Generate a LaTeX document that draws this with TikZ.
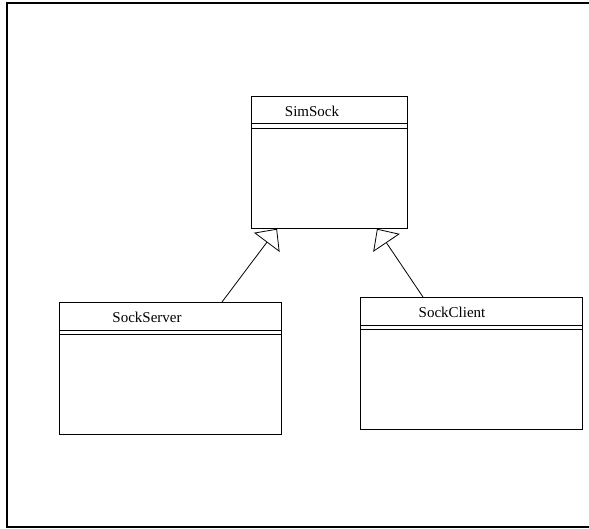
\documentclass[tikz,border=0pt]{standalone}
\usepackage{fontspec}
\setmainfont{Liberation Serif}
\usetikzlibrary{arrows.meta,calc}

\tikzset{
  classbox/.style={draw, line width=0.8pt, rectangle, anchor=north west,
    minimum width=#1, minimum height=132pt, inner sep=0pt},
  classname/.style={font=\fontsize{15}{18}\selectfont, inner sep=0pt},
  sepline/.style={line width=0.8pt},
  inherit/.style={line width=0.8pt,
    -{Triangle[open, length=17pt, width=32pt, line width=0.8pt]}},
  frame/.style={line width=2pt}
}

\begin{document}
\begin{tikzpicture}[x=1pt, y=-1pt]
  \useasboundingbox (0,0) rectangle (589,529);
  \fill[white] (0,0) rectangle (589,529);

  % outer frame (open at the right side)
  \draw[frame] (589,3) -- (7,3) -- (7,527) -- (589,527);

  % base class
  \node[classbox=156pt] (sim) at (251,96) {};
  \node[classname] (simname) at (312,111) {SimSock};
  \draw[sepline] ($(sim.north west)+(0,27.5)$) -- ($(sim.north east)+(0,27.5)$);
  \draw[sepline] ($(sim.north west)+(0,32)$) -- ($(sim.north east)+(0,32)$);

  % server class
  \node[classbox=222pt] (srv) at (59,302) {};
  \node[classname] (srvname) at (147,317) {SockServer};
  \draw[sepline] ($(srv.north west)+(0,28)$) -- ($(srv.north east)+(0,28)$);
  \draw[sepline] ($(srv.north west)+(0,32)$) -- ($(srv.north east)+(0,32)$);

  % client class
  \node[classbox=222pt] (cli) at (360,297) {};
  \node[classname] (cliname) at (452,312) {SockClient};
  \draw[sepline] ($(cli.north west)+(0,28)$) -- ($(cli.north east)+(0,28)$);
  \draw[sepline] ($(cli.north west)+(0,32.5)$) -- ($(cli.north east)+(0,32.5)$);

  % generalisation arrows
  \draw[inherit] ($(srv.north west)+(163,0)$) -- ($(sim.south west)+(26,0)$);
  \draw[inherit] ($(cli.north west)+(63,0)$) -- ($(sim.south west)+(126,0)$);
\end{tikzpicture}
\end{document}
